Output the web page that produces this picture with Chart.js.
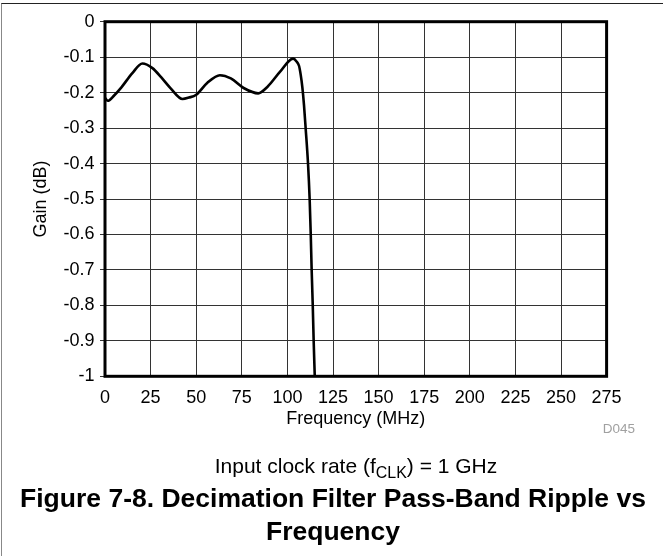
<!DOCTYPE html>
<html><head><meta charset="utf-8">
<script src="https://cdn.jsdelivr.net/npm/chart.js@4.4.1/dist/chart.umd.min.js"></script>
<style>
html,body{margin:0;padding:0;background:#fff;}
#wrap{position:relative;width:663px;height:556px;overflow:hidden;font-family:"Liberation Sans",Arial,sans-serif;color:#000;}
#frame{position:absolute;left:1px;top:3px;right:-2px;bottom:-2px;border-top:1px solid #222;border-left:1px solid #888;}
canvas{position:absolute;left:0;top:0;}
.t{position:absolute;white-space:nowrap;transform:translate(-50%,-50%);line-height:1;}
.sub{font-size:0.76em;position:relative;top:0.3em;}
</style></head><body>
<div id="wrap">
<div id="frame"></div>
<canvas id="c" width="663" height="556"></canvas>
<div class="t" style="left:619px;top:429px;font-size:13.5px;color:#a0a0a0;">D045</div>
<div class="t" style="left:356px;top:465px;font-size:21px;">Input clock rate (f<span class="sub">CLK</span>) = 1 GHz</div>
<div class="t" style="left:333px;top:498px;font-size:26.5px;font-weight:bold;">Figure 7-8. Decimation Filter Pass-Band Ripple vs</div>
<div class="t" style="left:333px;top:531px;font-size:26.5px;font-weight:bold;">Frequency</div>
</div>
<script>
const freqMHz = [0, 1.5, 5, 9, 15, 20.5, 26, 31, 36, 42.5, 46, 50, 56, 63, 69, 76, 84, 89, 96, 103.1, 105, 106.4, 107.3, 108.2, 109.1, 110, 111.3, 112.2, 112.8, 113.3, 113.9, 114.4, 115];
const gainDB  = [-0.215, -0.223, -0.208, -0.185, -0.145, -0.118, -0.131, -0.158, -0.188, -0.218, -0.214, -0.206, -0.173, -0.151, -0.16, -0.187, -0.202, -0.184, -0.141, -0.104, -0.112, -0.125, -0.15, -0.185, -0.235, -0.3, -0.4, -0.5, -0.6, -0.7, -0.8, -0.9, -1.0];
const xTickValues = [0, 25, 50, 75, 100, 125, 150, 175, 200, 225, 250, 275];
const yTickValues = [0, -0.1, -0.2, -0.3, -0.4, -0.5, -0.6, -0.7, -0.8, -0.9, -1];
const yTickLabels = ['0', '-0.1', '-0.2', '-0.3', '-0.4', '-0.5', '-0.6', '-0.7', '-0.8', '-0.9', '-1'];

const FONT = {family: '"Liberation Sans", Arial, sans-serif', size: 18};

const framePlugin = {
  id: 'frame',
  afterDraw(chart) {
    const {ctx, chartArea: a} = chart;
    ctx.save();
    ctx.strokeStyle = '#000';
    ctx.lineWidth = 3;
    ctx.strokeRect(a.left, a.top, a.right - a.left, a.bottom - a.top);
    ctx.restore();
  }
};

new Chart(document.getElementById('c'), {
  type: 'scatter',
  data: {
    datasets: [{
      data: freqMHz.map((x, i) => ({x: x, y: gainDB[i]})),
      showLine: true,
      borderColor: '#000',
      borderWidth: 2.6,
      pointRadius: 0,
      cubicInterpolationMode: 'monotone',
      fill: false
    }]
  },
  options: {
    responsive: false,
    animation: false,
    devicePixelRatio: 1,
    layout: {padding: {left: 0, top: 21.7, right: 56.4, bottom: 119.7}},
    plugins: {legend: {display: false}, tooltip: {enabled: false}},
    scales: {
      x: {
        type: 'linear', min: 0, max: 275,
        afterBuildTicks(s) { s.ticks = xTickValues.map(v => ({value: v})); },
        afterFit(s) { s.height = 60; },
        ticks: {font: FONT, color: '#000', padding: 11, maxRotation: 0, autoSkip: false},
        grid: {color: '#333', lineWidth: 1, drawTicks: false},
        border: {display: false},
        title: {display: true, text: 'Frequency (MHz)', font: FONT, color: '#000', padding: {top: 0, bottom: 6.5}}
      },
      y: {
        type: 'linear', min: -1, max: 0,
        afterBuildTicks(s) { s.ticks = yTickValues.map(v => ({value: v})); },
        afterFit(s) { s.width = 105; },
        ticks: {font: FONT, color: '#000', padding: 5.5, autoSkip: false, callback: (v, i) => yTickLabels[i]},
        grid: {color: '#333', lineWidth: 1, drawTicks: true, tickLength: 5},
        border: {display: false},
        title: {display: true, text: 'Gain (dB)', font: FONT, color: '#000', padding: {top: 30, bottom: 0}}
      }
    }
  },
  plugins: [framePlugin]
});
</script>
</body></html>
